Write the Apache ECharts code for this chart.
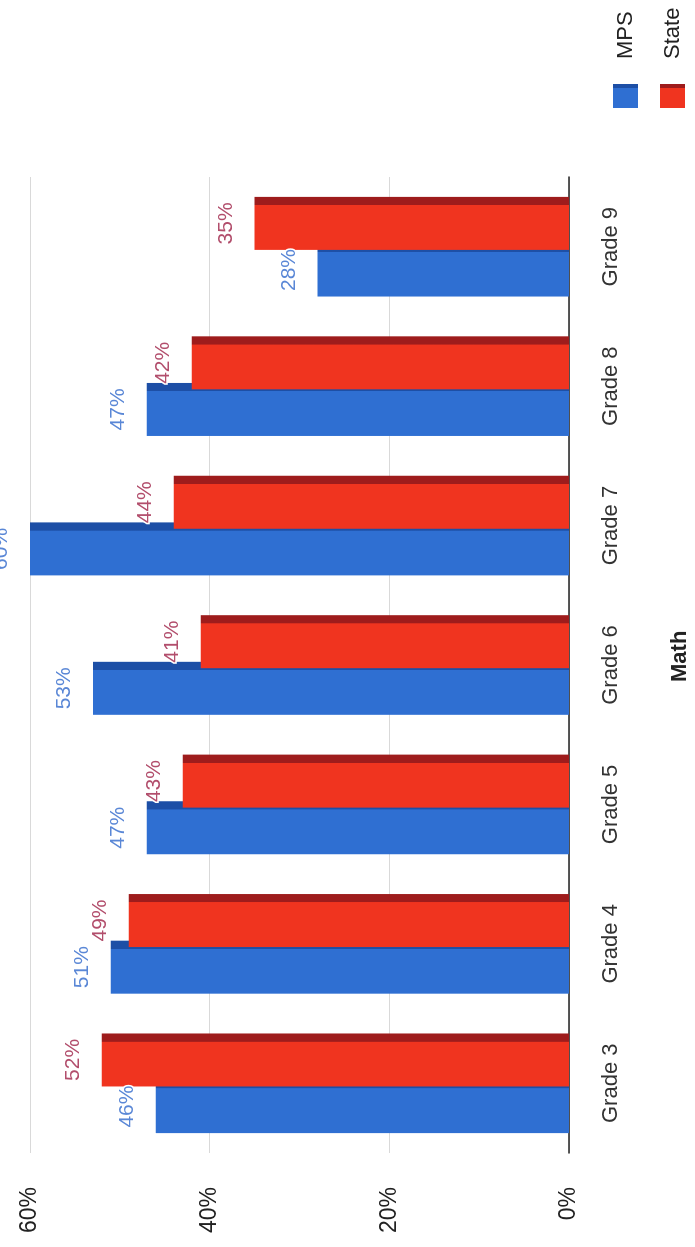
<!DOCTYPE html>
<html>
<head>
<meta charset="utf-8">
<script src="https://cdn.jsdelivr.net/npm/echarts@6/dist/echarts.min.js"></script>
<style>
  html, body { margin: 0; padding: 0; width: 695px; height: 1247px; overflow: hidden; background: #fff; }
  #wrap { position: absolute; left: 0; top: 0; width: 1247px; height: 695px;
          transform-origin: 0 0; transform: translate(0px, 1247px) rotate(-90deg); }
</style>
</head>
<body>
<div id="wrap"></div>
<script>
const categories = ['Grade 3', 'Grade 4', 'Grade 5', 'Grade 6', 'Grade 7', 'Grade 8', 'Grade 9'];
const mpsValues = [46, 51, 47, 53, 60, 47, 28];
const stateValues = [52, 49, 43, 41, 44, 42, 35];
const seriesNames = ['MPS', 'State'];
const chartTitle = 'Math';

const FONT = '"Liberation Sans", Arial, sans-serif';

function barGrad(body, dark) {
  return new echarts.graphic.LinearGradient(0, 0, 1, 0, [
    { offset: 0, color: body },
    { offset: 0.84, color: body },
    { offset: 0.85, color: dark },
    { offset: 1, color: dark }
  ]);
}

const chart = echarts.init(document.getElementById('wrap'));
chart.setOption({
  animation: false,
  backgroundColor: '#fff',
  title: {
    text: chartTitle,
    left: 560, top: 664,
    textStyle: { fontFamily: FONT, fontSize: 22, fontWeight: 'bold', color: '#222' }
  },
  legend: {
    orient: 'vertical',
    left: 1139, top: 613,
    padding: 0,
    icon: 'rect',
    itemWidth: 24, itemHeight: 25, itemGap: 22,
    data: seriesNames,
    textStyle: { fontFamily: FONT, fontSize: 22, color: '#222', padding: [0, 0, 0, 20] }
  },
  grid: { left: 94, right: 177, top: 30, bottom: 126 },
  xAxis: {
    type: 'category',
    data: categories,
    axisLine: { lineStyle: { color: '#222', width: 1.5 } },
    axisTick: { show: false },
    axisLabel: { fontFamily: FONT, fontSize: 22, color: '#333', margin: 31 }
  },
  yAxis: {
    type: 'value',
    min: 0, max: 60, interval: 20,
    axisLine: { show: false },
    axisTick: { show: false },
    axisLabel: { fontFamily: FONT, fontSize: 23, color: '#222', margin: 34, formatter: '{value}%' },
    splitLine: { lineStyle: { color: '#d9d9d9', width: 1 } }
  },
  series: [
    {
      name: seriesNames[0], type: 'bar', data: mpsValues,
      barWidth: 53, barGap: '-12%',
      itemStyle: { color: barGrad('#2f6fd2', '#1d4fa6') },
      label: {
        show: true, position: 'top', distance: 18, formatter: '{c}%',
        fontFamily: FONT, fontSize: 21, color: '#5a87d6',
        textBorderColor: '#fff', textBorderWidth: 3
      }
    },
    {
      name: seriesNames[1], type: 'bar', data: stateValues,
      barWidth: 53, barGap: '-12%',
      itemStyle: { color: barGrad('#f0341f', '#9e1c1c') },
      label: {
        show: true, position: 'top', distance: 18, formatter: '{c}%',
        fontFamily: FONT, fontSize: 21, color: '#b24e6c',
        textBorderColor: '#fff', textBorderWidth: 3
      }
    }
  ]
});
</script>
</body>
</html>
